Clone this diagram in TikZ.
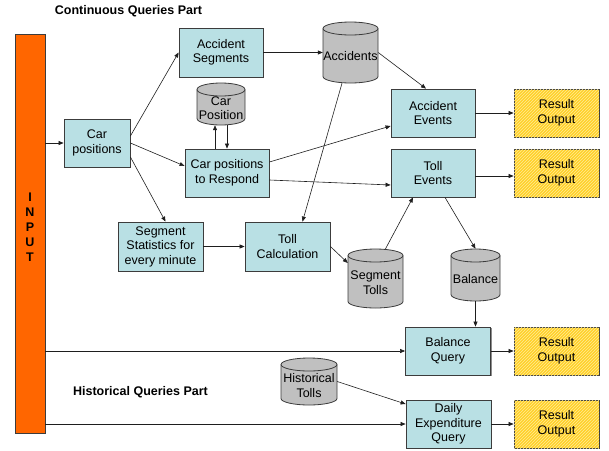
\documentclass[tikz,border=0pt]{standalone}
\usepackage{fontspec}
\setmainfont{Liberation Sans}
\usetikzlibrary{arrows.meta,shadows,patterns,calc}

\definecolor{boxfill}{RGB}{185,224,228}
\definecolor{boxline}{RGB}{60,60,60}
\definecolor{inputfill}{RGB}{255,102,0}
\definecolor{resfill}{RGB}{255,208,40}
\definecolor{reshatch}{RGB}{255,236,150}
\definecolor{cylfill}{RGB}{192,192,192}
\definecolor{linecol}{RGB}{30,30,30}

\tikzset{
  txt/.style={font=\fontsize{12.5}{14.5}\selectfont, align=center, inner sep=0pt},
  boldtxt/.style={font=\fontsize{12.5}{15}\selectfont\bfseries, align=center, inner sep=0pt},
  shadowed/.style={drop shadow={shadow xshift=1.3pt, shadow yshift=-1.3pt, fill=black!45, opacity=1}},
  proc/.style={txt, draw=boxline, line width=0.8pt, fill=boxfill, shadowed},
  resbox/.style={txt, draw=boxline, line width=0.8pt, fill=resfill, shadowed,
     postaction={pattern=north east lines, pattern color=reshatch}},
  inputbar/.style={draw=boxline, line width=0.8pt, fill=inputfill, shadowed, inner sep=0pt},
  cylsty/.style={draw=boxline, line width=0.8pt, fill=cylfill},
  conn/.style={draw=linecol, line width=0.6pt, -{Triangle[length=5pt,width=4pt]}},
}

\newcommand\dbcyl[6]{%
  \node[inner sep=0pt, minimum width=#4pt, minimum height=#5pt] (#1) at (#2,#3) {};
  \draw[cylsty] ({#2-#4/2},{#3+#5/2-6.5}) -- ({#2-#4/2},{#3-#5/2+6.5})
     arc[start angle=180,end angle=360,x radius={#4pt/2},y radius=6.5pt]
     -- ({#2+#4/2},{#3+#5/2-6.5})
     arc[start angle=0,end angle=180,x radius={#4pt/2},y radius=6.5pt] -- cycle;
  \draw[cylsty, fill=none] ({#2-#4/2},{#3+#5/2-6.5})
     arc[start angle=180,end angle=360,x radius={#4pt/2},y radius=6.5pt];
  \node[txt] (#1-t) at ([yshift=-4pt]#1.center) {#6};
}

\begin{document}
\begin{tikzpicture}[x=1pt,y=1pt]
\useasboundingbox (0,0) rectangle (609,-450);

% titles
\node[boldtxt] (title1) at (128.5,-11) {Continuous Queries Part};
\node[boldtxt] (title2) at (140.5,-392) {Historical Queries Part};

% input bar
\node[inputbar, minimum width=30pt, minimum height=399pt] (input) at (30,-233.5) {};
\node[boldtxt] (inputtxt) at (30,-227.5) {I\\N\\P\\U\\T};

% process boxes
\node[proc, minimum width=66pt, minimum height=48pt] (carpos) at (97,-143) {Car\\positions};
\node[proc, minimum width=84pt, minimum height=49pt] (accseg) at (221,-52.5) {Accident\\Segments};
\node[proc, minimum width=84pt, minimum height=48pt] (cpr) at (227,-173) {Car positions\\to Respond};
\node[proc, minimum width=85pt, minimum height=49pt] (segstat) at (160.5,-246.5) {Segment\\Statistics for\\every minute};
\node[proc, minimum width=85pt, minimum height=49pt] (tollcalc) at (287.5,-246.5) {Toll\\Calculation};
\node[proc, minimum width=84pt, minimum height=48pt] (accev) at (433,-113) {Accident\\Events};
\node[proc, minimum width=84pt, minimum height=48pt] (tollev) at (433,-173) {Toll\\Events};
\node[proc, minimum width=85pt, minimum height=48pt] (balq) at (448,-351) {Balance\\Query};
\node[proc, minimum width=85pt, minimum height=48pt] (daily) at (448.5,-424) {Daily\\Expenditure\\Query};

% result outputs
\node[resbox, minimum width=85pt, minimum height=48pt] (res1) at (556.5,-113) {Result\\Output};
\node[resbox, minimum width=85pt, minimum height=48pt] (res2) at (556.5,-173) {Result\\Output};
\node[resbox, minimum width=85pt, minimum height=48pt] (res3) at (556.5,-351) {Result\\Output};
\node[resbox, minimum width=85pt, minimum height=48pt] (res4) at (556.5,-424) {Result\\Output};

% databases
\dbcyl{carposdb}{221}{-104}{48}{42}{Car\\Position}
\dbcyl{accidents}{350.5}{-52.5}{55}{61}{Accidents}
\dbcyl{segtolls}{375.5}{-278.5}{55}{59}{Segment\\Tolls}
\dbcyl{balance}{475.5}{-275}{49}{52}{Balance}
\dbcyl{histtolls}{309}{-381.5}{56}{47}{Historical\\Tolls}

% connectors
\draw[conn] (input.east |- carpos.west) -- (carpos.west);
\draw[conn] (input.east |- balq.west) -- (balq.west);
\draw[conn] (input.east |- daily.west) -- (daily.west);

\draw[conn] ([yshift=7pt]carpos.east) -- (accseg.west);
\draw[conn] (carpos.east) -- ([yshift=7pt]cpr.west);
\draw[conn] ([yshift=-14pt]carpos.east) -- ([xshift=5pt]segstat.north);

\draw[conn] ([xshift=-12pt]cpr.north) -- ([xshift=-6pt]carposdb.south);
\draw[conn] ([xshift=6pt]carposdb.south) -- (cpr.north);

\draw[conn] (accseg.east) -- (accidents.west);
\draw[conn] (accidents.east) -- ([xshift=-7pt]accev.north);
\draw[conn] ([yshift=11pt]cpr.east) -- ([yshift=-13pt]accev.west);
\draw[conn] ([yshift=-7pt]cpr.east) -- ([yshift=-12pt]tollev.west);
\draw[conn] ([xshift=-8.5pt]accidents.south) -- ([xshift=15pt]tollcalc.north);

\draw[conn] (accev.east) -- (res1.west);
\draw[conn] ([yshift=-3pt]tollev.east) -- ([yshift=-3pt]res2.west);

\draw[conn] (segstat.east) -- (tollcalc.west);
\draw[conn] (tollcalc.east) -- ([yshift=15.5pt]segtolls.west);
\draw[conn] ([xshift=10pt]segtolls.north) -- ([xshift=-20pt]tollev.south);
\draw[conn] ([xshift=12pt]tollev.south) -- (balance.north);
\draw[conn] (balance.south) -- (balance.south |- balq.north);
\draw[conn] (balq.east) -- (res3.west);
\draw[conn] (histtolls.east) -- ([yshift=20pt]daily.west);
\draw[conn] (daily.east) -- (res4.west);
\end{tikzpicture}
\end{document}
